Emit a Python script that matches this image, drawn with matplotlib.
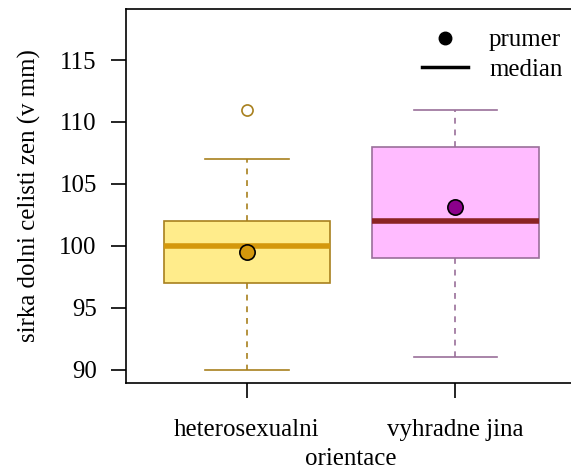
import matplotlib
matplotlib.use("Agg")
import matplotlib.pyplot as plt
from matplotlib.lines import Line2D

categories = ["heterosexualni", "vyhradne jina"]
whislo = [90, 91]
q1 = [97, 99]
med = [100, 102]
q3 = [102, 108]
whishi = [107, 111]
means = [99.46, 103.1]
fliers = [[111], []]

fills = ["#FFEC8B", "#FFBBFF"]
edges = ["#A8801E", "#9A6F9A"]
medcols = ["#D4980C", "#8B2323"]
meancols = ["#D4980C", "#8B008B"]

plt.rcParams['font.family'] = ['Liberation Serif', 'DejaVu Serif']
FS = 17.9

W, H = 571, 472
fig = plt.figure(figsize=(W / 100, H / 100), dpi=100)
L, R, T, B = 126, 576, 9, 382.5
ax = fig.add_axes([L / W, 1 - B / H, (R - L) / W, (B - T) / H])

for i in range(2):
    st = dict(whislo=whislo[i], q1=q1[i], med=med[i], q3=q3[i], whishi=whishi[i],
              fliers=fliers[i], mean=means[i], label=categories[i])
    ax.bxp([st], positions=[i + 1], widths=0.8, patch_artist=True, showmeans=True,
           boxprops=dict(facecolor=fills[i], edgecolor=edges[i], linewidth=1.2),
           whiskerprops=dict(color=edges[i], linestyle=(0, (3.5, 3.5)), linewidth=1.2),
           capprops=dict(color=edges[i], linewidth=1.2),
           capwidths=0.4,
           medianprops=dict(color=medcols[i], linewidth=4),
           meanprops=dict(marker='o', markerfacecolor=meancols[i], markeredgecolor='black',
                          markersize=11, markeredgewidth=1.2),
           flierprops=dict(marker='o', markerfacecolor='white', markeredgecolor=edges[i],
                           markersize=8, markeredgewidth=1.2),
           manage_ticks=False)

ax.set_xlim(0.42, 2.58)
ax.set_ylim(88.95, 119.12)
ax.set_xticks([1, 2])
ax.set_xticklabels(categories, fontsize=FS)
ax.set_yticks([90, 95, 100, 105, 110, 115])
ax.set_yticklabels(["90", "95", "100", "105", "110", "115"], fontsize=FS)
ax.tick_params(axis='y', length=11, width=1.2, pad=10)
ax.tick_params(axis='x', length=11, width=1.2, pad=15)
for s in ax.spines.values():
    s.set_linewidth(1.2)

ax.set_ylabel("sirka dolni celisti zen (v mm)", fontsize=FS, labelpad=13)
ax.set_xlabel("orientace", fontsize=FS, labelpad=5)

handles = [Line2D([], [], marker='o', color='black', linestyle='none', markersize=9),
           Line2D([], [], color='black', linewidth=2.5)]
ax.legend(handles, ["prumer", "median"], loc='upper left', bbox_to_anchor=((402 - L) / (R - L), 1.0),
          frameon=False, fontsize=FS, handlelength=1.85, handletextpad=0.85, labelspacing=0.3,
          borderaxespad=0.4)

fig.savefig("out.png", dpi=100)
